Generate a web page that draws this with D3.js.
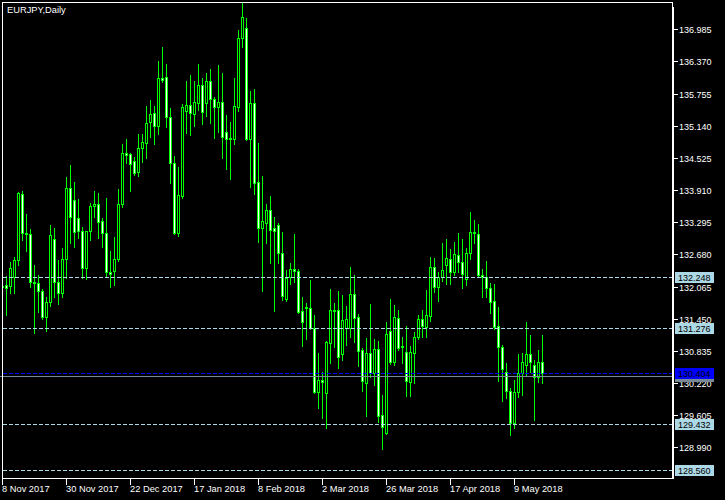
<!DOCTYPE html>
<html><head><meta charset="utf-8">
<script src="https://cdn.jsdelivr.net/npm/d3@7"></script>
<style>html,body{margin:0;padding:0;background:#000;} svg{display:block;}</style>
</head><body>
<svg id="chart" width="725" height="500"></svg>
<script>
const symbolTitle = "EURJPY,Daily";

const open = [
132.074,132.094,132.074,132.247,132.572,133.834,133.088,133.069,132.151,132.132,
131.979,131.481,131.768,132.973,132.151,131.940,132.591,133.949,133.719,133.375,
133.126,132.419,133.126,133.605,133.643,133.318,133.088,132.342,132.361,132.591,
133.643,134.618,134.599,134.465,134.255,134.714,134.810,135.211,135.384,135.135,
136.053,136.072,135.307,134.427,133.088,133.796,135.422,135.537,135.364,135.575,
135.919,135.575,135.996,135.651,135.498,135.594,135.020,134.905,134.886,135.498,
136.818,137.009,134.886,135.575,134.064,133.184,133.279,133.528,133.184,133.241,
132.706,131.826,132.247,132.400,132.361,131.596,131.673,131.654,131.271,130.047,
130.276,130.028,130.984,131.615,131.615,130.774,131.271,131.271,131.921,131.481,
130.850,130.219,130.793,130.410,130.869,129.607,129.263,131.214,130.621,131.462,
130.927,130.812,130.238,130.793,131.099,131.443,131.290,131.501,132.438,132.055,
132.247,132.476,132.591,132.342,132.667,132.533,132.208,132.706,133.107,133.069,
132.285,132.247,132.036,131.787,131.309,130.908,130.429,130.066,129.454,130.047,
130.410,130.563,130.774,130.563,130.334,130.621];

const high = [
132.132,132.266,132.533,132.629,133.872,133.892,133.452,133.165,132.476,132.285,
132.017,131.864,133.241,133.184,132.572,132.801,134.159,134.389,134.064,133.739,
133.203,133.126,133.662,133.892,133.853,133.375,133.758,132.744,133.012,133.930,
134.791,134.886,134.618,134.542,134.982,134.982,135.517,135.632,135.517,136.378,
136.646,136.321,135.479,134.561,134.351,135.556,135.996,136.110,135.996,136.321,
136.053,136.149,136.225,135.690,136.302,136.149,135.345,135.211,136.053,136.971,
137.488,137.201,135.804,135.843,134.810,134.178,133.643,133.796,133.394,133.279,
133.107,132.380,132.514,133.069,132.400,131.864,131.749,132.189,131.520,130.793,
130.429,131.022,132.017,131.749,131.979,131.902,131.692,132.438,132.285,131.539,
130.888,131.080,131.730,131.061,131.022,129.989,131.386,131.826,131.711,131.615,
131.099,131.309,130.927,131.195,131.520,131.615,131.998,132.629,132.610,132.342,
132.897,132.973,132.782,132.916,133.088,132.973,132.801,133.490,133.337,133.260,
132.400,132.553,132.132,132.113,131.673,130.946,130.602,130.123,130.276,130.774,
130.793,131.386,131.137,130.659,130.850,131.137];

const low = [
131.998,131.520,131.940,131.940,132.476,132.954,132.744,132.055,131.175,131.577,
131.443,131.214,131.692,131.864,131.730,131.864,132.227,132.897,132.820,132.993,
132.227,132.208,132.954,133.394,132.993,132.820,132.247,132.055,132.094,132.553,
133.586,134.427,133.892,134.198,134.178,134.446,134.523,134.924,134.791,134.982,
135.977,135.116,134.045,133.069,133.031,133.758,135.001,134.963,135.135,135.441,
135.173,135.326,135.192,134.905,135.020,134.523,134.312,134.121,134.791,135.422,
136.646,134.867,133.968,133.834,132.916,131.979,132.897,132.514,131.596,132.514,
131.807,131.787,132.113,132.151,131.558,130.927,131.061,131.252,130.028,129.741,
129.549,129.358,130.602,130.908,130.506,130.659,130.946,131.099,131.003,130.544,
130.066,129.588,130.334,130.181,129.473,128.957,129.243,130.582,130.563,130.850,
130.602,129.970,129.970,130.219,131.061,131.099,131.099,131.405,131.960,131.787,
132.170,132.113,132.113,132.285,132.342,132.036,132.094,132.591,132.897,132.266,
131.864,131.864,131.558,131.252,130.257,129.875,129.932,129.224,129.358,129.951,
129.989,130.372,130.429,129.511,130.238,130.219];

const close = [
132.055,132.036,132.419,132.572,133.853,133.088,133.069,132.151,132.132,131.979,
131.481,131.768,133.050,132.151,131.940,132.591,133.949,133.394,133.107,133.126,
132.419,133.126,133.605,133.643,133.299,133.088,132.342,132.304,132.591,133.643,
134.618,134.580,134.408,134.236,134.714,134.829,135.192,135.364,135.135,136.053,
136.015,135.307,134.427,133.088,133.815,135.498,135.537,135.384,135.594,135.919,
135.403,135.996,135.651,135.498,135.594,134.924,134.886,134.886,135.517,136.818,
137.220,134.886,135.575,134.045,133.184,133.318,133.528,133.146,133.126,132.706,
131.883,132.227,132.400,132.361,131.577,131.386,131.654,131.271,130.047,130.276,
130.238,131.003,131.615,131.596,130.716,131.424,131.443,131.921,131.462,130.831,
130.257,130.793,130.410,130.869,129.588,129.377,131.156,130.621,131.481,130.888,
130.908,130.257,130.812,131.099,131.443,131.309,131.520,132.438,132.055,132.247,
132.380,132.610,132.342,132.686,132.533,132.304,132.706,133.107,133.088,132.285,
132.247,132.036,131.768,131.290,130.908,130.487,130.066,129.454,130.047,130.410,
130.621,130.774,130.621,130.334,130.621,130.404];

const priceTicks = [136.985,136.370,135.755,135.140,134.525,133.910,133.295,132.680,132.065,131.450,130.835,130.220,129.605,128.990];
const dateLabels = ["8 Nov 2017","30 Nov 2017","22 Dec 2017","17 Jan 2018","8 Feb 2018","2 Mar 2018","26 Mar 2018","17 Apr 2018","9 May 2018"];
const dateLabelBars = [0,16,32,48,64,80,96,112,128];
const levelLines = [132.248,131.276,129.432,128.560];
const bidPrice = 130.404;
const greyLinePrice = 130.347;

const W = 725, H = 500;
const FONT = "'Liberation Sans', Arial, sans-serif";
const GREEN = "#00ff00";
const svg = d3.select("#chart").attr("shape-rendering","crispEdges");
svg.append("rect").attr("width",W).attr("height",H).attr("fill","#000");

const x = d3.scaleLinear().domain([0, open.length - 1]).range([2, 542]);
const y = d3.scaleLinear().domain([128.383, 137.545]).range([479, 0]);
const py = p => Math.round(y(p));

svg.append("defs").append("clipPath").attr("id","clip")
  .append("rect").attr("x",3).attr("y",3).attr("width",669).attr("height",475);

const bars = d3.range(open.length).map(i => ({i, o:open[i], h:high[i], l:low[i], c:close[i]}));
const g = svg.append("g").attr("clip-path","url(#clip)");

g.selectAll("rect.wick").data(bars).join("rect").attr("class","wick")
  .attr("x", d => Math.round(x(d.i)))
  .attr("y", d => py(d.h))
  .attr("width", 1)
  .attr("height", d => py(d.l) - py(d.h) + 1)
  .attr("fill", GREEN);
g.selectAll("rect.body").data(bars).join("rect").attr("class","body")
  .attr("x", d => Math.round(x(d.i)) - 1)
  .attr("y", d => py(Math.max(d.o,d.c)))
  .attr("width", 3)
  .attr("height", d => py(Math.min(d.o,d.c)) - py(Math.max(d.o,d.c)) + 1)
  .attr("fill", GREEN);
g.selectAll("rect.fill").data(bars.filter(d => py(Math.min(d.o,d.c)) - py(Math.max(d.o,d.c)) >= 2))
  .join("rect").attr("class","fill")
  .attr("x", d => Math.round(x(d.i)))
  .attr("y", d => py(Math.max(d.o,d.c)) + 1)
  .attr("width", 1)
  .attr("height", d => py(Math.min(d.o,d.c)) - py(Math.max(d.o,d.c)) - 1)
  .attr("fill", d => d.c < d.o ? "#ffffff" : "#000000");

const lines = svg.append("g");
lines.selectAll("line.lvl").data(levelLines).join("line").attr("class","lvl")
  .attr("x1",3).attr("x2",672)
  .attr("y1", d => py(d) + 0.5).attr("y2", d => py(d) + 0.5)
  .attr("stroke","#add8e6").attr("stroke-width",1).attr("stroke-dasharray","4,2");
lines.append("line").attr("x1",0).attr("x2",672)
  .attr("y1", py(greyLinePrice)+0.5).attr("y2", py(greyLinePrice)+0.5)
  .attr("stroke","#778899").attr("stroke-width",1);
lines.append("line").attr("x1",3).attr("x2",672)
  .attr("y1", py(bidPrice)+0.5).attr("y2", py(bidPrice)+0.5)
  .attr("stroke","#0000ff").attr("stroke-width",1).attr("stroke-dasharray","4,2");

svg.append("rect").attr("x",2.5).attr("y",2.5).attr("width",670).attr("height",476)
  .attr("fill","none").attr("stroke","#ffffff").attr("stroke-width",1);
svg.append("line").attr("x1",673.5).attr("x2",673.5).attr("y1",7).attr("y2",479)
  .attr("stroke","#ffffff").attr("stroke-width",1);

svg.append("text").attr("x",7).attr("y",13).attr("fill","#fff")
  .attr("font-family",FONT).attr("font-size",9.3).text(symbolTitle);

const ya = svg.append("g");
ya.selectAll("line").data(priceTicks).join("line")
  .attr("x1",674).attr("x2",678).attr("y1", d => py(d)+0.5).attr("y2", d => py(d)+0.5)
  .attr("stroke","#fff");
ya.selectAll("text").data(priceTicks).join("text")
  .attr("x",679).attr("y", d => py(d)+3.5)
  .attr("fill","#fff").attr("font-family",FONT).attr("font-size",9)
  .text(d => d3.format(".3f")(d));

const xa = svg.append("g");
xa.selectAll("line").data(dateLabelBars).join("line")
  .attr("x1", d => Math.round(x(d))+0.5).attr("x2", d => Math.round(x(d))+0.5)
  .attr("y1",479).attr("y2",485).attr("stroke","#fff");
xa.selectAll("text").data(dateLabelBars).join("text")
  .attr("x", d => Math.round(x(d))).attr("y",492)
  .attr("fill","#fff").attr("font-family",FONT).attr("font-size",9.3)
  .text((d,k) => dateLabels[k]);

function priceLabel(p, bg, fg, showText){
  const yy = py(p);
  svg.append("rect").attr("x",675).attr("y",yy-5).attr("width",39).attr("height",11).attr("fill",bg);
  if (showText) svg.append("text").attr("x",678).attr("y",yy+3.5).attr("fill",fg)
    .attr("font-family",FONT).attr("font-size",9).text(d3.format(".3f")(p));
}
levelLines.forEach(p => priceLabel(p, "#add8e6", "#000", true));
priceLabel(greyLinePrice, "#778899", "#000", false);
priceLabel(bidPrice, "#0000ff", "#000", true);
</script>
</body></html>
